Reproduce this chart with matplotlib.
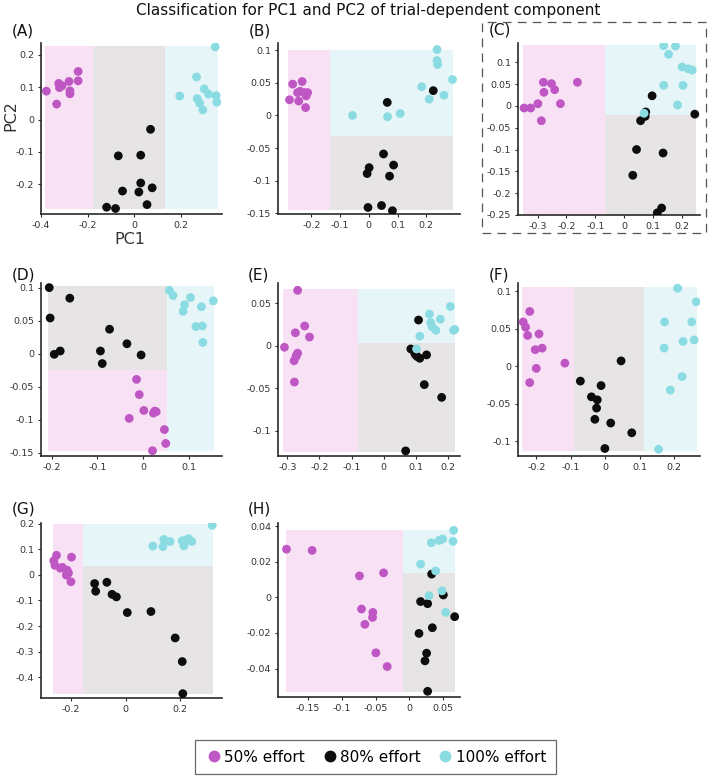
import matplotlib
matplotlib.use("Agg")
import matplotlib.pyplot as plt
from matplotlib.patches import Rectangle
from matplotlib.lines import Line2D

plt.rcParams['font.family'] = ['DejaVu Sans']
plt.rcParams['axes.unicode_minus'] = False

W, H = 708, 780

# ---------------- data (PC1, PC2) per panel ----------------
labels = ["(A)", "(B)", "(C)", "(D)", "(E)", "(F)", "(G)", "(H)"]
classes = ["50% effort", "80% effort", "100% effort"]
class_colors = ["#BE56C4", "#0D0D0D", "#8ADCE2"]
region_colors = ["#F8E1F4", "#E6E4E5", "#E6F6F8"]

A_m_x = [-0.377, -0.324, -0.310, -0.321, -0.280, -0.241, -0.241, -0.276, -0.276, -0.333]
A_m_y = [0.088, 0.112, 0.105, 0.099, 0.118, 0.149, 0.120, 0.089, 0.080, 0.048]
A_k_x = [0.069, -0.069, 0.027, 0.027, -0.051, 0.019, 0.076, 0.054, -0.119, -0.081]
A_k_y = [-0.030, -0.112, -0.110, -0.196, -0.221, -0.224, -0.211, -0.263, -0.271, -0.275]
A_c_x = [0.346, 0.266, 0.194, 0.299, 0.317, 0.269, 0.279, 0.293, 0.350, 0.353]
A_c_y = [0.225, 0.132, 0.073, 0.095, 0.079, 0.065, 0.051, 0.030, 0.074, 0.054]

B_m_x = [-0.265, -0.232, -0.276, -0.248, -0.244, -0.223, -0.213, -0.218, -0.220, -0.239]
B_m_y = [0.048, 0.052, 0.024, 0.035, 0.022, 0.035, 0.035, 0.030, 0.012, 0.037]
B_k_x = [0.064, 0.224, 0.051, 0.001, -0.006, 0.086, 0.072, -0.003, 0.044, 0.082]
B_k_y = [0.020, 0.038, -0.059, -0.080, -0.089, -0.076, -0.093, -0.141, -0.138, -0.146]
B_c_x = [-0.057, 0.065, 0.109, 0.237, 0.237, 0.239, 0.184, 0.291, 0.210, 0.261]
B_c_y = [0.000, -0.002, 0.003, 0.101, 0.084, 0.078, 0.044, 0.055, 0.025, 0.031]

C_m_x = [-0.347, -0.324, -0.299, -0.280, -0.278, -0.252, -0.241, -0.221, -0.287, -0.162]
C_m_y = [-0.005, -0.005, 0.005, 0.054, 0.031, 0.051, 0.037, 0.005, -0.034, 0.054]
C_k_x = [0.097, 0.075, 0.073, 0.057, 0.245, 0.043, 0.135, 0.030, 0.130, 0.115]
C_k_y = [0.023, -0.014, -0.024, -0.034, -0.019, -0.100, -0.108, -0.159, -0.234, -0.245]
C_c_x = [0.137, 0.178, 0.154, 0.201, 0.222, 0.236, 0.137, 0.204, 0.185, 0.069]
C_c_y = [0.138, 0.137, 0.118, 0.089, 0.085, 0.082, 0.047, 0.047, 0.002, -0.017]

D_m_x = [-0.014, -0.008, 0.002, 0.023, 0.029, -0.030, 0.047, 0.050, 0.021, 0.026]
D_m_y = [-0.039, -0.062, -0.086, -0.090, -0.088, -0.098, -0.115, -0.136, -0.147, -0.087]
D_k_x = [-0.205, -0.160, -0.203, -0.194, -0.181, -0.093, -0.089, -0.073, -0.035, -0.004]
D_k_y = [0.100, 0.084, 0.054, -0.001, 0.004, 0.004, -0.015, 0.037, 0.015, -0.002]
D_c_x = [0.058, 0.066, 0.104, 0.091, 0.088, 0.128, 0.154, 0.116, 0.130, 0.131]
D_c_y = [0.096, 0.088, 0.085, 0.074, 0.064, 0.071, 0.080, 0.041, 0.042, 0.017]

E_m_x = [-0.268, -0.246, -0.275, -0.231, -0.309, -0.268, -0.273, -0.279, -0.278, -0.271]
E_m_y = [0.065, 0.023, 0.015, 0.010, -0.002, -0.009, -0.013, -0.018, -0.043, -0.011]
E_k_x = [0.108, 0.084, 0.099, 0.112, 0.133, 0.104, 0.126, 0.180, 0.068, 0.096]
E_k_y = [0.030, -0.004, -0.011, -0.015, -0.011, -0.013, -0.046, -0.061, -0.124, -0.009]
E_c_x = [0.142, 0.207, 0.146, 0.176, 0.150, 0.162, 0.217, 0.221, 0.112, 0.102]
E_c_y = [0.037, 0.046, 0.027, 0.031, 0.022, 0.018, 0.018, 0.019, 0.011, -0.004]

F_m_x = [-0.219, -0.238, -0.231, -0.225, -0.192, -0.203, -0.183, -0.200, -0.219, -0.117]
F_m_y = [0.073, 0.059, 0.052, 0.041, 0.043, 0.022, 0.024, -0.003, -0.022, 0.004]
F_k_x = [0.046, -0.072, -0.012, -0.040, -0.023, -0.025, -0.030, 0.016, 0.077, -0.001]
F_k_y = [0.007, -0.020, -0.026, -0.041, -0.045, -0.056, -0.071, -0.076, -0.089, -0.110]
F_c_x = [0.210, 0.264, 0.172, 0.251, 0.226, 0.258, 0.171, 0.223, 0.189, 0.155]
F_c_y = [0.104, 0.086, 0.059, 0.059, 0.033, 0.035, 0.024, -0.014, -0.032, -0.111]

G_m_x = [-0.254, -0.199, -0.264, -0.260, -0.240, -0.232, -0.215, -0.210, -0.218, -0.201]
G_m_y = [0.076, 0.069, 0.055, 0.037, 0.026, 0.029, 0.018, 0.007, -0.001, -0.027]
G_k_x = [-0.114, -0.110, -0.069, -0.050, -0.034, 0.006, 0.093, 0.182, 0.208, 0.210]
G_k_y = [-0.034, -0.064, -0.029, -0.076, -0.086, -0.147, -0.143, -0.246, -0.338, -0.463]
G_c_x = [0.318, 0.100, 0.137, 0.140, 0.163, 0.208, 0.214, 0.231, 0.243, 0.219]
G_c_y = [0.193, 0.112, 0.110, 0.138, 0.130, 0.133, 0.113, 0.141, 0.130, 0.134]

H_m_x = [-0.182, -0.144, -0.0738, -0.0381, -0.0708, -0.054, -0.0545, -0.0658, -0.0495, -0.0327]
H_m_y = [0.027, 0.0263, 0.012, 0.0137, -0.0066, -0.0085, -0.0113, -0.0152, -0.0312, -0.0389]
H_k_x = [0.0332, 0.0168, 0.0272, 0.0505, 0.0673, 0.0342, 0.0144, 0.0257, 0.0233, 0.0272]
H_k_y = [0.013, -0.0024, -0.0036, 0.0013, -0.0109, -0.0171, -0.0203, -0.0314, -0.0357, -0.0528]
H_c_x = [0.0658, 0.0649, 0.0327, 0.0441, 0.0495, 0.0168, 0.0391, 0.0292, 0.0485, 0.054]
H_c_y = [0.0376, 0.0314, 0.0306, 0.0319, 0.0327, 0.0186, 0.0148, 0.0009, 0.0036, -0.0085]

# decision regions: (class index, x0, x1, y0, y1)
A_regions = [(0, -0.381, -0.179, -0.277, 0.228), (1, -0.179, 0.133, -0.277, 0.228), (2, 0.133, 0.356, -0.277, 0.228)]
B_regions = [(0, -0.281, -0.136, -0.145, 0.101), (1, -0.136, 0.293, -0.145, -0.031), (2, -0.136, 0.293, -0.031, 0.101)]
C_regions = [(0, -0.351, -0.067, -0.249, 0.140), (1, -0.067, 0.248, -0.249, -0.021), (2, -0.067, 0.248, -0.021, 0.140)]
D_regions = [(0, -0.208, 0.053, -0.147, -0.025), (1, -0.208, 0.053, -0.025, 0.1025), (2, 0.053, 0.155, -0.147, 0.1025)]
E_regions = [(0, -0.313, -0.080, -0.125, 0.067), (1, -0.080, 0.223, -0.125, 0.003), (2, -0.080, 0.223, 0.003, 0.067)]
F_regions = [(0, -0.241, -0.090, -0.113, 0.105), (1, -0.090, 0.113, -0.113, 0.105), (2, 0.113, 0.267, -0.113, 0.105)]
G_regions = [(0, -0.268, -0.157, -0.463, 0.198), (1, -0.157, 0.320, -0.463, 0.033), (2, -0.157, 0.320, 0.033, 0.198)]
H_regions = [(0, -0.183, -0.0089, -0.053, 0.038), (1, -0.0089, 0.0678, -0.053, 0.0135), (2, -0.0089, 0.0678, 0.0135, 0.038)]

A_xlim, A_ylim = (-0.400, 0.375), (-0.292, 0.237)
B_xlim, B_ylim = (-0.316, 0.317), (-0.151, 0.111)
C_xlim, C_ylim = (-0.368, 0.263), (-0.250, 0.144)
D_xlim, D_ylim = (-0.223, 0.173), (-0.155, 0.107)
E_xlim, E_ylim = (-0.329, 0.237), (-0.130, 0.0736)
F_xlim, F_ylim = (-0.253, 0.275), (-0.120, 0.111)
G_xlim, G_ylim = (-0.311, 0.354), (-0.480, 0.202)
H_xlim, H_ylim = (-0.1946, 0.0752), (-0.056, 0.0417)

A_xt, A_yt = [-0.4, -0.2, 0, 0.2], [-0.2, -0.1, 0, 0.1, 0.2]
B_xt, B_yt = [-0.2, -0.1, 0, 0.1, 0.2], [-0.15, -0.1, -0.05, 0, 0.05, 0.1]
C_xt, C_yt = [-0.3, -0.2, -0.1, 0, 0.1, 0.2], [-0.25, -0.2, -0.15, -0.1, -0.05, 0, 0.05, 0.1]
D_xt, D_yt = [-0.2, -0.1, 0, 0.1], [-0.15, -0.1, -0.05, 0, 0.05, 0.1]
E_xt, E_yt = [-0.3, -0.2, -0.1, 0, 0.1, 0.2], [-0.1, -0.05, 0, 0.05]
F_xt, F_yt = [-0.2, -0.1, 0, 0.1, 0.2], [-0.1, -0.05, 0, 0.05, 0.1]
G_xt, G_yt = [-0.2, 0, 0.2], [-0.4, -0.3, -0.2, -0.1, 0, 0.1, 0.2]
H_xt, H_yt = [-0.15, -0.1, -0.05, 0, 0.05], [-0.04, -0.02, 0, 0.02, 0.04]

panels = [
    ((A_m_x, A_m_y), (A_k_x, A_k_y), (A_c_x, A_c_y), A_regions, A_xlim, A_ylim, A_xt, A_yt),
    ((B_m_x, B_m_y), (B_k_x, B_k_y), (B_c_x, B_c_y), B_regions, B_xlim, B_ylim, B_xt, B_yt),
    ((C_m_x, C_m_y), (C_k_x, C_k_y), (C_c_x, C_c_y), C_regions, C_xlim, C_ylim, C_xt, C_yt),
    ((D_m_x, D_m_y), (D_k_x, D_k_y), (D_c_x, D_c_y), D_regions, D_xlim, D_ylim, D_xt, D_yt),
    ((E_m_x, E_m_y), (E_k_x, E_k_y), (E_c_x, E_c_y), E_regions, E_xlim, E_ylim, E_xt, E_yt),
    ((F_m_x, F_m_y), (F_k_x, F_k_y), (F_c_x, F_c_y), F_regions, F_xlim, F_ylim, F_xt, F_yt),
    ((G_m_x, G_m_y), (G_k_x, G_k_y), (G_c_x, G_c_y), G_regions, G_xlim, G_ylim, G_xt, G_yt),
    ((H_m_x, H_m_y), (H_k_x, H_k_y), (H_c_x, H_c_y), H_regions, H_xlim, H_ylim, H_xt, H_yt),
]

# axes boxes in pixels: (left, right, top, bottom)
boxes = [(41, 222, 43, 214), (278, 460, 43, 214), (518, 700, 43, 215),
         (41, 222, 283, 456), (278, 460, 283, 456), (518, 700, 283, 456),
         (41, 222, 523, 698), (278, 460, 523, 697)]
label_pos = [(12, 31), (249, 31), (489, 30), (12, 275), (248, 275), (489, 275), (12, 509), (248, 509)]

fig = plt.figure(figsize=(W / 100, H / 100), dpi=100)

def fmt(v):
    s = ('%g' % v)
    return s

for i, (m, k, c, regs, xl, yl, xt, yt) in enumerate(panels):
    l, r, t, b = boxes[i]
    ax = fig.add_axes([l / W, 1 - b / H, (r - l) / W, (b - t) / H])
    for (ci, x0, x1, y0, y1) in regs:
        ax.add_patch(Rectangle((x0, y0), x1 - x0, y1 - y0, facecolor=region_colors[ci],
                               edgecolor='none', zorder=0))
    for (xs, ys), col in zip([m, k, c], class_colors):
        ax.scatter(xs, ys, s=40, color=col, edgecolors='none', zorder=3)
    ax.set_xlim(*xl)
    ax.set_ylim(*yl)
    ax.set_xticks(xt)
    ax.set_yticks(yt)
    ax.set_xticklabels([fmt(v) for v in xt])
    ax.set_yticklabels([fmt(v) for v in yt])
    for s in ['top', 'right']:
        ax.spines[s].set_visible(False)
    for s in ['left', 'bottom']:
        ax.spines[s].set_color('#2a2a2a')
        ax.spines[s].set_linewidth(1.2)
    ax.tick_params(direction='out', length=2.5, width=0.8, color='#2a2a2a',
                   labelsize=6.8, labelcolor='#333333', pad=2.5)
    ax.set_facecolor('none')
    fig.text(label_pos[i][0] / W, 1 - label_pos[i][1] / H, labels[i], fontsize=11,
             ha='left', va='center', color='#111111')

# axis labels (panel A only)
fig.text(130 / W, 1 - 240 / H, "PC1", fontsize=11.5, ha='center', va='center', color='#333333')
fig.text(11 / W, 1 - 116 / H, "PC2", fontsize=11.5, ha='center', va='center', rotation=90, color='#333333')

# title
fig.text(368 / W, 1 - 10 / H, "Classification for PC1 and PC2 of trial-dependent component",
         fontsize=11, ha='center', va='center', color='#111111')

# dashed box around panel C
fig.add_artist(Rectangle((482 / W, 1 - 233 / H), (706 - 482) / W, (233 - 22) / H,
                         transform=fig.transFigure, fill=False, edgecolor='#555555',
                         linestyle=(0, (7, 5)), linewidth=0.9))

# legend
handles = [Line2D([], [], linestyle='none', marker='o', markersize=8.5, markerfacecolor=col,
                  markeredgecolor='none') for col in class_colors]
leg = fig.legend(handles, classes, loc='center', bbox_to_anchor=(375.5 / W, 1 - 757 / H),
                 ncol=3, frameon=True, fancybox=False, edgecolor='#444444', fontsize=11,
                 handletextpad=0.1, columnspacing=1.0, borderpad=0.6, handlelength=1.2)
leg.get_frame().set_linewidth(0.9)

fig.savefig("out.png", dpi=100)
